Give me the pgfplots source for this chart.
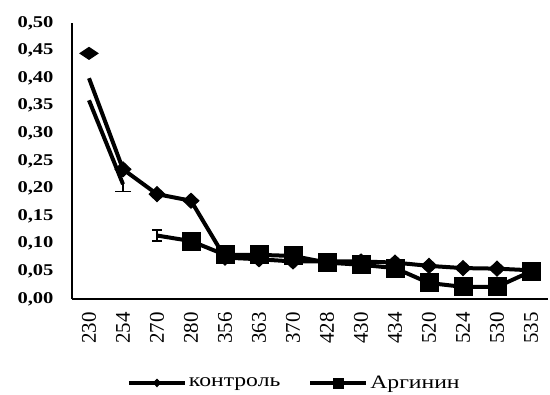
\documentclass[border=0pt]{standalone}
\usepackage{fontspec}
\setmainfont{Liberation Serif}
\newfontfamily\ytickfont[FakeStretch=1.25]{Liberation Serif}
\newfontfamily\legfont[FakeStretch=1.25]{Liberation Serif}
\usepackage{pgfplots}
\pgfplotsset{compat=1.18}
\begin{document}
\begin{tikzpicture}[x=1bp,y=1bp]
\path[use as bounding box] (0,0) rectangle (550,394);
\begin{axis}[
  at={(72bp,95bp)}, anchor=south west,
  scale only axis, width=476bp, height=276bp,
  xmin=-0.5, xmax=13.5, ymin=0, ymax=0.5,
  axis lines=left, axis line style={-, line width=1.8bp},
  xtick={0,...,13},
  xticklabels={230,254,270,280,356,363,370,428,430,434,520,524,530,535},
  xticklabel shift=10bp,
  x tick label style={rotate=90, anchor=east, font=\fontsize{21}{21}\selectfont},
  ytick={0,0.05,0.1,0.15,0.2,0.25,0.3,0.35,0.4,0.45,0.5},
  yticklabel shift=15bp,
  y tick label style={font=\ytickfont\bfseries\fontsize{16.5}{16.5}\selectfont},
  yticklabel={\pgfmathprintnumber[fixed,fixed zerofill,precision=2,use comma,assume math mode=true]{\tick}},
  major tick length=0pt,
  legend style={at={(0.467,-0.304)}, anchor=center, draw=none, fill=none,
    font=\legfont\fontsize{19}{19}\selectfont, legend columns=2,
    /tikz/every even column/.append style={column sep=26bp}},
  legend cell align=left,
  legend image code/.code={\draw[#1, mark=none] plot coordinates {(0bp,0bp)(56bp,0bp)};
     \draw[#1, only marks] plot coordinates {(28bp,0bp)};},
]
% control line
\addplot[black, line width=4bp, mark=diamond*, mark size=7.5bp, mark options={xscale=1.4, line width=1bp}, mark indices={2,...,14}, forget plot]
  coordinates {(0,0.40)(1,0.235)(2,0.19)(3,0.178)(4,0.075)(5,0.072)(6,0.068)(7,0.068)(8,0.068)(9,0.066)(10,0.06)(11,0.056)(12,0.055)(13,0.052)};
\addplot[black, only marks, mark=diamond*, mark size=6bp, mark options={xscale=2.0, line width=1bp}, forget plot] coordinates {(0,0.445)};
% arginin
\addplot[black, line width=4bp, forget plot,
  error bars/.cd, y dir=minus, y explicit, error bar style={line width=1.4bp}, error mark options={rotate=90, mark size=8bp, line width=1.4bp}]
  coordinates {(0,0.36) (1,0.208) -= (0,0.013)};
\addplot[black, line width=4bp, mark=square*, mark size=9bp, mark options={line width=1bp}, mark indices={2,...,13}, forget plot,
  error bars/.cd, y dir=both, y explicit, error bar style={line width=1.4bp}, error mark options={rotate=90, mark size=5bp, line width=1.4bp}]
  coordinates {(2,0.115) +- (0,0.01) (3,0.105)(4,0.08)(5,0.08)(6,0.078)(7,0.066)(8,0.062)(9,0.056)(10,0.029)(11,0.022)(12,0.022)(13,0.05)};
\addlegendimage{black, line width=4bp, mark=diamond*, mark size=4bp, mark options={xscale=1.3, line width=0.5bp}}
\addlegendentry{контроль}
\addlegendimage{black, line width=4bp, mark=square*, mark size=5bp, mark options={line width=0.5bp}}
\addlegendentry{Аргинин}
\end{axis}
\end{tikzpicture}
\end{document}
